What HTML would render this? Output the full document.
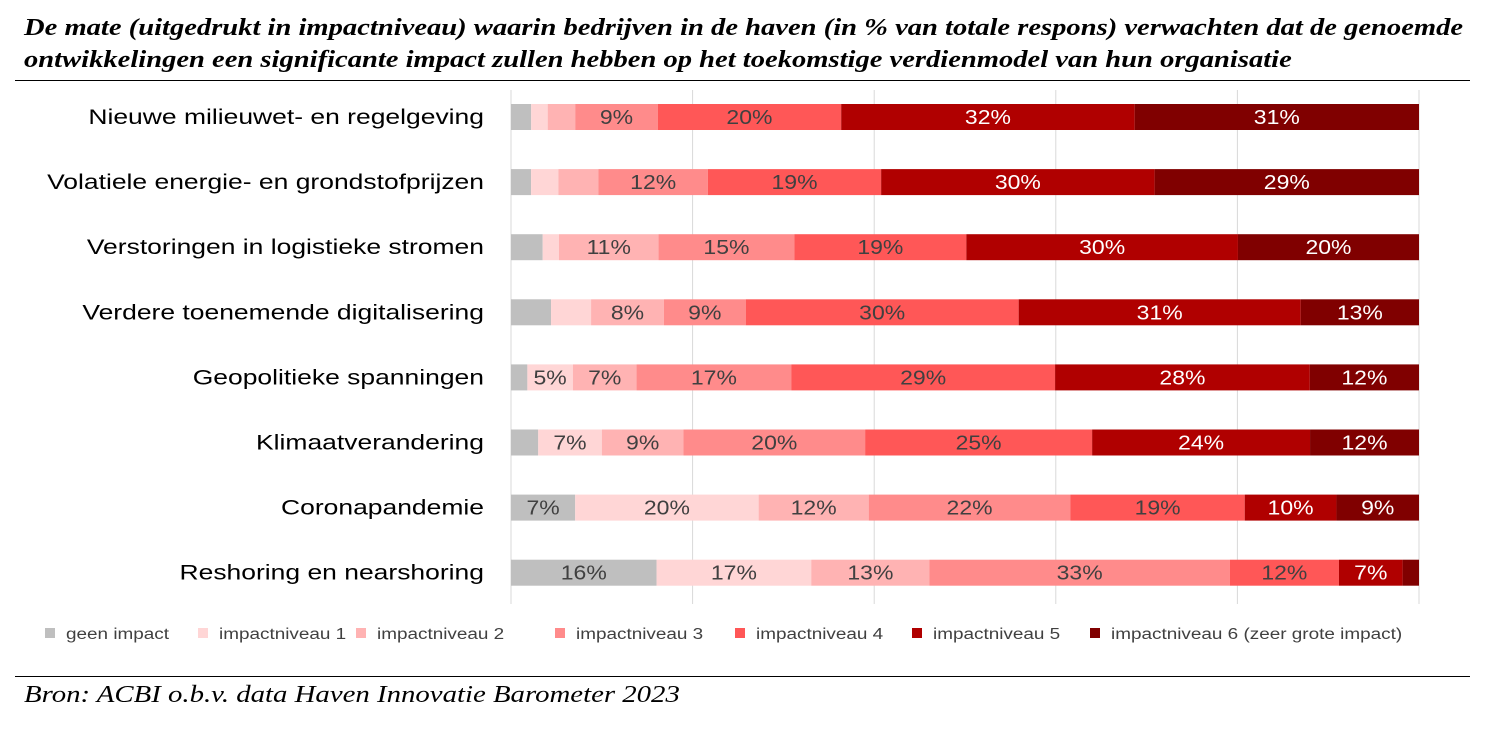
<!DOCTYPE html>
<html><head><meta charset="utf-8">
<style>
body{margin:0;width:1485px;height:730px;background:#fff;overflow:hidden;font-family:"Liberation Sans",sans-serif}
.title{position:absolute;left:24px;top:12px;font-family:"Liberation Serif",serif;font-weight:bold;font-style:italic;font-size:24px;line-height:32px;color:#000;white-space:nowrap;transform:scaleX(1.19);transform-origin:left top}
.hr{position:absolute;left:15px;width:1455px;height:1px;background:#000}
.src{position:absolute;left:24px;top:682px;font-family:"Liberation Serif",serif;font-style:italic;font-size:24px;color:#000;white-space:nowrap;transform:scaleX(1.2);transform-origin:left top}
</style></head><body>
<div class="title">De mate (uitgedrukt in impactniveau) waarin bedrijven in de haven (in % van totale respons) verwachten dat de genoemde<br>ontwikkelingen een significante impact zullen hebben op het toekomstige verdienmodel van hun organisatie</div>
<div class="hr" style="top:80px"></div>
<svg id="chart" width="1485" height="730" style="position:absolute;left:0;top:0"></svg>
<div class="hr" style="top:676px"></div>
<div class="src">Bron: ACBI o.b.v. data Haven Innovatie Barometer 2023</div>
<script>
const categories=["Nieuwe milieuwet- en regelgeving","Volatiele energie- en grondstofprijzen","Verstoringen in logistieke stromen","Verdere toenemende digitalisering","Geopolitieke spanningen","Klimaatverandering","Coronapandemie","Reshoring en nearshoring"];
const seriesNames=["geen impact","impactniveau 1","impactniveau 2","impactniveau 3","impactniveau 4","impactniveau 5","impactniveau 6 (zeer grote impact)"];
const geen=[2.2,2.2,3.5,4.4,1.8,3,7,16];
const imp1=[1.8,3,1.8,4.4,5,7,20,17];
const imp2=[3,4.4,11,8,7,9,12,13];
const imp3=[9,12,15,9,17,20,22,33];
const imp4=[20,19,19,30,29,25,19,12];
const imp5=[32,30,30,31,28,24,10,7];
const imp6=[31,29,20,13,12,12,9,1.8];
const colors=["#bfbfbf","#ffd6d6","#ffb3b3","#ff8b8b","#ff5757","#b00000","#800000"];
const series=[geen,imp1,imp2,imp3,imp4,imp5,imp6];
const svg=document.getElementById('chart');const NS="http://www.w3.org/2000/svg";
const x0=511,x1=1419;
function xs(v){return x0+(x1-x0)*v/100;}
function yc(i){return 117+i*65.1;}
function mk(t,a){const e=document.createElementNS(NS,t);for(const k in a)e.setAttribute(k,a[k]);svg.appendChild(e);return e;}
function widen(t,f){const w=t.getComputedTextLength();t.setAttribute('textLength',w*f);t.setAttribute('lengthAdjust','spacingAndGlyphs');}
for(let g=0;g<=100;g+=20){const l=mk('line',{x1:xs(g),x2:xs(g),y1:90,y2:604,stroke:'#d9d9d9','stroke-width':1});

}
categories.forEach((c,i)=>{
 const t=mk('text',{x:484,y:yc(i)+7,'text-anchor':'end','font-size':21,fill:'#000','font-family':'Liberation Sans, sans-serif'});t.textContent=c;
 
 
 widen(t,1.26);
 let tot=0;series.forEach(s=>tot+=s[i]);
 let acc=0;
 series.forEach((s,j)=>{
  const v=s[i]*100/tot;const xa=xs(acc),xb=xs(acc+v);acc+=v;
  const r=mk('rect',{x:xa,y:yc(i)-13,width:xb-xa,height:26,fill:colors[j]});
  
  
  if(s[i]>=4.5){const tl=mk('text',{x:(xa+xb)/2,y:yc(i)+7,'text-anchor':'middle','font-size':20,fill:j>=5?'#fff':'#404040','font-family':'Liberation Sans, sans-serif'});tl.textContent=Math.round(s[i])+'%';
  
  
  widen(tl,1.15);}
 });
});
const lx=[45,198,356,555,735,912,1090];
seriesNames.forEach((n,j)=>{
 const r=mk('rect',{x:lx[j],y:628,width:10,height:10,fill:colors[j]});
 
 
 const t=mk('text',{x:lx[j]+21,y:639,'font-size':15.5,fill:'#404040','font-family':'Liberation Sans, sans-serif'});t.textContent=n;
 
 
 widen(t,1.22);
});
</script>
</body></html>
